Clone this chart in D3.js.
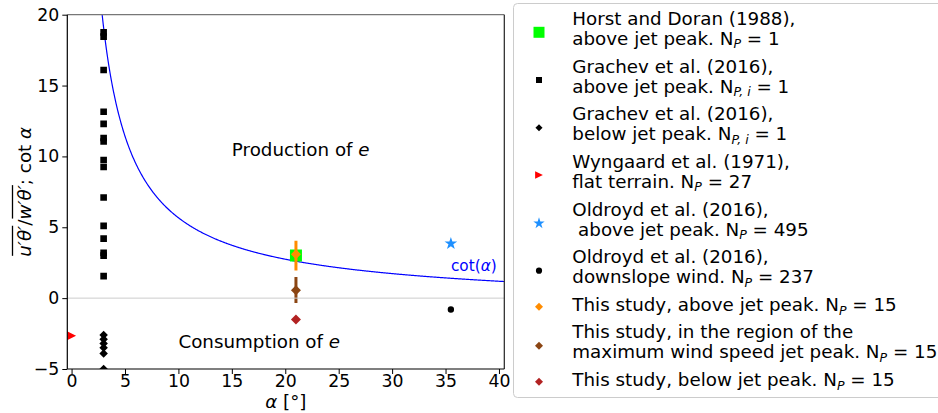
<!DOCTYPE html>
<html>
<head>
<meta charset="utf-8">
<script src="https://cdn.jsdelivr.net/npm/d3@7"></script>
<style>
  html, body { margin: 0; padding: 0; background: #fff; }
  svg { display: block; font-family: "DejaVu Sans", sans-serif; }
  text { white-space: pre; }
</style>
</head>
<body>
<svg id="chart" width="938" height="413"></svg>
<script>
// Flux ratio u'θ'/w'θ' against slope angle α for several studies
const xTicks = [0, 5, 10, 15, 20, 25, 30, 35, 40];
const yTicks = [-5, 0, 5, 10, 15, 20];

const horstDoran = [{a: 21, r: 3.0}];
const grachevAbove = [18.75, 18.45, 16.1, 13.15, 12.3, 11.3, 11.05, 9.75, 9.25, 7.1, 5.1, 4.2, 3.2, 3.0, 1.55]
  .map(r => ({a: 3, r}));
const grachevBelow = [-2.6, -2.9, -3.2, -3.5, -3.9, -5.0].map(r => ({a: 3, r}));
const wyngaard = [{a: 0, r: -2.65}];
const oldroydAbove = [{a: 35.5, r: 3.85}];
const oldroydDownslope = [{a: 35.5, r: -0.8}];
const studyAbove = [{a: 21, r: 3.1, lo: 1.95, hi: 4.05}];
const studyJet = [{a: 21, r: 0.55, lo: -0.35, hi: 1.5}];
const studyBelow = [{a: 21, r: -1.5}];
// angles (degrees) at which cot(α) is evaluated for the reference curve
const cotAngles = d3.range(2.86, 40.6, 0.05);

const svg = d3.select("#chart");
const plot = {left: 67.3, right: 504.3, top: 14.7, bottom: 369};
const FS = 18.3;   // text size for annotations, labels and legend
const TS = 17.3;   // tick label size

const x = d3.scaleLinear().domain([-0.4, 40.5]).range([plot.left, plot.right]);
const y = d3.scaleLinear().domain([-5, 20]).range([plot.bottom, plot.top]);

svg.append("defs").append("clipPath").attr("id", "plotclip")
  .append("rect").attr("x", plot.left).attr("y", plot.top)
  .attr("width", plot.right - plot.left).attr("height", plot.bottom - plot.top);

const g = svg.append("g").attr("clip-path", "url(#plotclip)");

// cot(α) curve
const cotLine = d3.line()
  .x(d => x(d))
  .y(d => y(1 / Math.tan(d * Math.PI / 180)));
g.append("path").datum(cotAngles)
  .attr("d", cotLine).attr("fill", "none")
  .attr("stroke", "#0000ff").attr("stroke-width", 1.2);

function sym(type, size) { return d3.symbol().type(type).size(size)(); }
const diamond = {
  draw(ctx, size) {
    const r = Math.sqrt(size) / 2;
    ctx.moveTo(0, -r); ctx.lineTo(r, 0); ctx.lineTo(0, r); ctx.lineTo(-r, 0); ctx.closePath();
  }
};
const triRight = {
  draw(ctx, size) {
    const r = Math.sqrt(size) / 2;
    ctx.moveTo(r, 0); ctx.lineTo(-r, -r); ctx.lineTo(-r, r); ctx.closePath();
  }
};

function points(data, type, size, color) {
  g.append("g").selectAll("path").data(data).join("path")
    .attr("transform", d => `translate(${x(d.a)},${y(d.r)})`)
    .attr("d", sym(type, size)).attr("fill", color);
}
function errbars(data, color) {
  g.append("g").selectAll("line").data(data).join("line")
    .attr("x1", d => x(d.a)).attr("x2", d => x(d.a))
    .attr("y1", d => y(d.lo)).attr("y2", d => y(d.hi))
    .attr("stroke", color).attr("stroke-width", 3);
}

points(horstDoran, d3.symbolSquare, 144, "#00ff00");
points(grachevAbove, d3.symbolSquare, 44, "#000");
points(grachevBelow, diamond, 72, "#000");
points(wyngaard, triRight, 81, "#ff0000");
points(oldroydAbove, d3.symbolStar, 50, "#1e90ff");
points(oldroydDownslope, d3.symbolCircle, 32, "#000");
errbars(studyAbove, "#ff8c00");
points(studyAbove, diamond, 100, "#ff8c00");
errbars(studyJet, "#8b4513");
points(studyJet, diamond, 100, "#8b4513");
points(studyBelow, diamond, 100, "#b22222");

// zero reference line
g.append("line")
  .attr("x1", plot.left).attr("x2", plot.right)
  .attr("y1", y(0)).attr("y2", y(0))
  .attr("stroke", "#cccccc").attr("stroke-width", 1);

// annotations
function richText(parent, xx, yy, parts, size, color) {
  const t = parent.append("text").attr("x", xx).attr("y", yy)
    .attr("font-size", size).attr("fill", color || "#000");
  parts.forEach(p => {
    const s = t.append("tspan").text(p.t);
    if (p.i) s.attr("font-style", "italic");
  });
  return t;
}
richText(svg, x(15), y(10), [{t: "Production of "}, {t: "e", i: true}], FS);
richText(svg, x(10), y(-3.5), [{t: "Consumption of "}, {t: "e", i: true}], FS);
richText(svg, x(35.5), y(1.9), [{t: "cot("}, {t: "α", i: true}, {t: ")"}], 15.3, "#0000ff");

// spines
svg.append("line").attr("x1", plot.left).attr("x2", plot.right)
  .attr("y1", plot.top).attr("y2", plot.top).attr("stroke", "#777").attr("stroke-width", 1.2);
svg.append("line").attr("x1", plot.right).attr("x2", plot.right)
  .attr("y1", plot.top).attr("y2", plot.bottom).attr("stroke", "#222").attr("stroke-width", 1.2);
svg.append("line").attr("x1", plot.left).attr("x2", plot.left)
  .attr("y1", plot.top).attr("y2", plot.bottom).attr("stroke", "#000").attr("stroke-width", 1.2);
svg.append("line").attr("x1", plot.left).attr("x2", plot.right)
  .attr("y1", plot.bottom).attr("y2", plot.bottom).attr("stroke", "#000").attr("stroke-width", 1.2);

// axes
const fmt = d => d < 0 ? "\u2212" + Math.abs(d) : String(d);
const xAxis = svg.append("g").attr("transform", `translate(0,${plot.bottom})`)
  .call(d3.axisBottom(x).tickValues(xTicks).tickFormat(fmt).tickSize(5).tickPadding(1));
const yAxis = svg.append("g").attr("transform", `translate(${plot.left},0)`)
  .call(d3.axisLeft(y).tickValues(yTicks).tickFormat(fmt).tickSize(5).tickPadding(3));
[xAxis, yAxis].forEach(a => {
  a.select(".domain").remove();
  a.selectAll("text").attr("font-size", TS).attr("font-family", "DejaVu Sans").attr("fill", "#000");
  a.selectAll("line").attr("stroke", "#000").attr("stroke-width", 1);
});

// x label
const xl = svg.append("text").attr("x", (plot.left + plot.right) / 2).attr("y", 407.5)
  .attr("text-anchor", "middle").attr("font-size", FS);
xl.append("tspan").attr("font-style", "italic").text("α");
xl.append("tspan").text(" [°]");

// y label with overlined covariances
const yl = svg.append("g")
  .attr("transform", `translate(31,${(plot.top + plot.bottom) / 2}) rotate(-90)`);
const yParts = [
  {t: "u′θ′", i: true, over: true},
  {t: "/", i: false},
  {t: "w′θ′", i: true, over: true},
  {t: "; cot ", i: false},
  {t: "α", i: true}
];
let cx = 0;
const placed = [];
yParts.forEach(p => {
  const t = yl.append("text").attr("x", cx).attr("y", 0).attr("font-size", FS)
    .attr("font-style", p.i ? "italic" : "normal").text(p.t);
  const w = t.node().getComputedTextLength();
  placed.push({t, x0: cx, w, over: p.over});
  cx += w;
});
const shift = -cx / 2;
placed.forEach(p => {
  p.t.attr("x", p.x0 + shift);
  if (p.over) {
    yl.append("line").attr("x1", p.x0 + shift + 1).attr("x2", p.x0 + shift + p.w)
      .attr("y1", -18.5).attr("y2", -18.5).attr("stroke", "#000").attr("stroke-width", 1.3);
  }
});

// legend
const leg = svg.append("g");
leg.append("rect").attr("x", 513.5).attr("y", 3.5).attr("width", 440).attr("height", 394)
  .attr("rx", 4).attr("fill", "#fff").attr("stroke", "#cccccc").attr("stroke-width", 1);

const legendLabels = [
  ["Horst and Doran (1988),", "above jet peak. N|P| = 1"],
  ["Grachev et al. (2016),", "above jet peak. N|P, i| = 1"],
  ["Grachev et al. (2016),", "below jet peak. N|P, i| = 1"],
  ["Wyngaard et al. (1971),", "flat terrain. N|P| = 27"],
  ["Oldroyd et al. (2016),", " above jet peak. N|P| = 495"],
  ["Oldroyd et al. (2016),", "downslope wind. N|P| = 237"],
  ["This study, above jet peak. N|P| = 15"],
  ["This study, in the region of the", "maximum wind speed jet peak. N|P| = 15"],
  ["This study, below jet peak. N|P| = 15"]
];
const legendMarkers = [
  {type: d3.symbolSquare, size: 121, color: "#00ff00"},
  {type: d3.symbolSquare, size: 36, color: "#000"},
  {type: diamond, size: 50, color: "#000"},
  {type: triRight, size: 60, color: "#ff0000"},
  {type: d3.symbolStar, size: 40, color: "#1e90ff"},
  {type: d3.symbolCircle, size: 30, color: "#000"},
  {type: diamond, size: 64, color: "#ff8c00"},
  {type: diamond, size: 64, color: "#8b4513"},
  {type: diamond, size: 64, color: "#b22222"}
];
const markerY = [32.3, 80, 127.7, 175, 223.3, 270.7, 306.7, 345.7, 381.7];
const lineGap = 20;

function legendLine(parent, xx, yy, str) {
  const t = parent.append("text").attr("x", xx).attr("y", yy).attr("font-size", FS).attr("fill", "#000");
  const segs = str.split("|");
  t.append("tspan").text(segs[0]);
  if (segs.length > 1) {
    t.append("tspan").attr("dy", 3.5).attr("font-size", 12.5).attr("font-style", "italic").text(segs[1]);
    t.append("tspan").attr("dy", -3.5).text(segs[2]);
  }
}

legendLabels.forEach((lines, i) => {
  const m = legendMarkers[i];
  leg.append("path").attr("transform", `translate(539,${markerY[i]})`)
    .attr("d", sym(m.type, m.size)).attr("fill", m.color);
  const base = lines.length === 1 ? markerY[i] + 4.5 : markerY[i] - 7.5;
  lines.forEach((ln, k) => legendLine(leg, 572.3, base + k * lineGap, ln));
});
</script>
</body>
</html>
